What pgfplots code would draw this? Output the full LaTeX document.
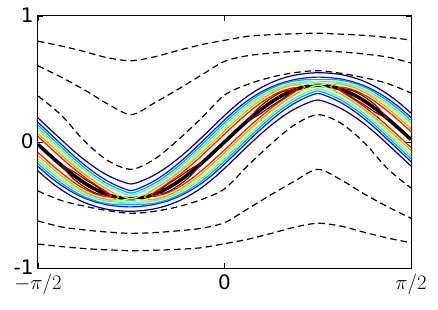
\documentclass[border=0pt]{standalone}
\usepackage{fontspec}
\setmainfont{DejaVu Sans}
\usepackage{pgfplots}
\usepackage{pgfplotstable}
\pgfplotsset{compat=1.18}
\definecolor{jA}{rgb}{0,0,0.5}
\definecolor{jB}{rgb}{0,0.07,1}
\definecolor{jC}{rgb}{0,0.64,1}
\definecolor{jD}{rgb}{0.21,1,0.79}
\definecolor{jE}{rgb}{0.79,1,0.21}
\definecolor{jF}{rgb}{1,0.64,0}
\definecolor{jG}{rgb}{1,0.07,0}
\definecolor{jH}{rgb}{0.5,0,0}

\pgfplotstableread{
x c u1 l1 u2 l2 u3 l3 u4 l4 u5 l5
-1.5708 -0.019 0.191 -0.229 0.156 -0.194 0.134 -0.172 0.113 -0.151 0.091 -0.129
-1.4726 -0.104 0.104 -0.310 0.069 -0.275 0.047 -0.254 0.026 -0.233 0.004 -0.212
-1.3744 -0.185 0.018 -0.379 -0.018 -0.344 -0.040 -0.326 -0.061 -0.305 -0.083 -0.287
-1.2763 -0.260 -0.066 -0.436 -0.104 -0.401 -0.125 -0.387 -0.146 -0.367 -0.169 -0.352
-1.1781 -0.326 -0.143 -0.481 -0.183 -0.446 -0.205 -0.435 -0.225 -0.415 -0.248 -0.404
-1.0799 -0.379 -0.210 -0.513 -0.253 -0.478 -0.274 -0.469 -0.294 -0.450 -0.318 -0.440
-0.9817 -0.419 -0.266 -0.535 -0.312 -0.500 -0.333 -0.490 -0.352 -0.471 -0.377 -0.461
-0.8836 -0.442 -0.307 -0.546 -0.356 -0.511 -0.376 -0.496 -0.394 -0.478 -0.421 -0.464
-0.7854 -0.450 -0.333 -0.550 -0.385 -0.515 -0.405 -0.495 -0.423 -0.477 -0.450 -0.450
-0.6872 -0.440 -0.305 -0.544 -0.354 -0.509 -0.374 -0.494 -0.392 -0.476 -0.419 -0.462
-0.5890 -0.414 -0.261 -0.530 -0.307 -0.495 -0.328 -0.485 -0.347 -0.466 -0.372 -0.456
-0.4909 -0.372 -0.203 -0.506 -0.246 -0.471 -0.267 -0.462 -0.287 -0.443 -0.311 -0.433
-0.3927 -0.316 -0.133 -0.471 -0.173 -0.436 -0.195 -0.425 -0.215 -0.405 -0.238 -0.394
-0.2945 -0.248 -0.054 -0.424 -0.092 -0.389 -0.113 -0.375 -0.134 -0.355 -0.157 -0.340
-0.1963 -0.171 0.032 -0.365 -0.004 -0.330 -0.026 -0.312 -0.047 -0.291 -0.069 -0.273
-0.0982 -0.087 0.121 -0.293 0.086 -0.258 0.064 -0.237 0.043 -0.216 0.021 -0.195
0 0 0.210 -0.210 0.175 -0.175 0.153 -0.153 0.132 -0.132 0.110 -0.110
0.0982 0.087 0.293 -0.121 0.258 -0.086 0.237 -0.064 0.216 -0.043 0.195 -0.021
0.1963 0.171 0.365 -0.032 0.330 0.004 0.312 0.026 0.291 0.047 0.273 0.069
0.2945 0.248 0.424 0.054 0.389 0.092 0.375 0.113 0.355 0.134 0.340 0.157
0.3927 0.316 0.471 0.133 0.436 0.173 0.425 0.195 0.405 0.215 0.394 0.238
0.4909 0.372 0.506 0.203 0.471 0.246 0.462 0.267 0.443 0.287 0.433 0.311
0.5890 0.414 0.530 0.261 0.495 0.307 0.485 0.328 0.466 0.347 0.456 0.372
0.6872 0.440 0.544 0.305 0.509 0.354 0.494 0.374 0.476 0.392 0.462 0.419
0.7854 0.450 0.550 0.333 0.515 0.385 0.495 0.405 0.477 0.423 0.450 0.450
0.8836 0.442 0.546 0.307 0.511 0.356 0.496 0.376 0.478 0.394 0.464 0.421
0.9817 0.419 0.535 0.266 0.500 0.312 0.490 0.333 0.471 0.352 0.461 0.377
1.0799 0.379 0.513 0.210 0.478 0.253 0.469 0.274 0.450 0.294 0.440 0.318
1.1781 0.326 0.481 0.143 0.446 0.183 0.435 0.205 0.415 0.225 0.404 0.248
1.2763 0.260 0.436 0.066 0.401 0.104 0.387 0.125 0.367 0.146 0.352 0.169
1.3744 0.185 0.379 -0.018 0.344 0.018 0.326 0.040 0.305 0.061 0.287 0.083
1.4726 0.104 0.310 -0.104 0.275 -0.069 0.254 -0.047 0.233 -0.026 0.212 -0.004
1.5708 0.019 0.229 -0.191 0.194 -0.156 0.172 -0.134 0.151 -0.113 0.129 -0.091
}\contours

\pgfplotstableread{
x d1 d2 d3 d4 d5 d6
-1.5708 0.800 0.605 0.365 -0.389 -0.627 -0.810
-1.3744 0.762 0.514 0.213 -0.464 -0.674 -0.830
-1.1781 0.717 0.413 0.006 -0.510 -0.698 -0.846
-0.9817 0.668 0.301 -0.148 -0.545 -0.715 -0.856
-0.7854 0.645 0.217 -0.217 -0.566 -0.725 -0.863
-0.5890 0.676 0.311 -0.136 -0.550 -0.719 -0.859
-0.3927 0.726 0.418 0.015 -0.514 -0.705 -0.852
-0.1963 0.772 0.530 0.188 -0.458 -0.685 -0.839
0 0.807 0.640 0.372 -0.372 -0.640 -0.807
0.1963 0.839 0.685 0.458 -0.188 -0.530 -0.772
0.3927 0.852 0.705 0.514 -0.015 -0.418 -0.726
0.5890 0.859 0.719 0.550 0.136 -0.311 -0.676
0.7854 0.863 0.725 0.566 0.217 -0.217 -0.645
0.9817 0.856 0.715 0.545 0.148 -0.301 -0.668
1.1781 0.846 0.698 0.510 -0.006 -0.413 -0.717
1.3744 0.830 0.674 0.464 -0.213 -0.514 -0.762
1.5708 0.810 0.627 0.389 -0.365 -0.605 -0.800
}\dashed

\begin{document}
\begin{tikzpicture}
\path[use as bounding box] (-38bp,-42bp) rectangle (400bp,268bp);
\begin{axis}[
  at={(0,0)}, anchor=south west,
  scale only axis, width=373bp, height=252bp,
  xmin=-1.5708, xmax=1.5708, ymin=-1, ymax=1,
  xtick={-1.5708,0,1.5708}, xticklabels={$-\pi/2$,0,$\pi/2$},
  ytick={-1,0,1}, yticklabels={-1,0,1},
  tick align=inside, major tick length=5bp,
  xtick pos=both, ytick pos=both,
  xticklabel pos=lower, yticklabel pos=left,
  tick style={black, line width=0.8bp},
  axis line style={line width=1bp},
  ticklabel style={font=\fontsize{20}{20}\selectfont},
  yticklabel style={xshift=-1bp, yshift=1bp},
  xticklabel style={yshift=-3bp},
]
\addplot[black, line width=1.2bp, dash pattern=on 6.5bp off 4bp, smooth] table[x=x,y=d1]{\dashed};
\addplot[black, line width=1.2bp, dash pattern=on 6.5bp off 4bp, smooth] table[x=x,y=d2]{\dashed};
\addplot[black, line width=1.2bp, dash pattern=on 6.5bp off 4bp, smooth] table[x=x,y=d3]{\dashed};
\addplot[black, line width=1.2bp, dash pattern=on 6.5bp off 4bp, smooth] table[x=x,y=d4]{\dashed};
\addplot[black, line width=1.2bp, dash pattern=on 6.5bp off 4bp, smooth] table[x=x,y=d5]{\dashed};
\addplot[black, line width=1.2bp, dash pattern=on 6.5bp off 4bp, smooth] table[x=x,y=d6]{\dashed};

\addplot[black, line width=3.6bp, smooth] table[x=x,y=c]{\contours};

\addplot[jA, line width=1.2bp, smooth] table[x=x,y=u1]{\contours};
\addplot[jA, line width=1.2bp, smooth] table[x=x,y=l1]{\contours};
\addplot[jB, line width=1.2bp, smooth] table[x=x,y=u2]{\contours};
\addplot[jB, line width=1.2bp, smooth] table[x=x,y=l2]{\contours};
\addplot[jC, line width=1.2bp, smooth] table[x=x,y=u3]{\contours};
\addplot[jC, line width=1.2bp, smooth] table[x=x,y=l3]{\contours};
\addplot[jD, line width=1.2bp, smooth] table[x=x,y=u4]{\contours};
\addplot[jD, line width=1.2bp, smooth] table[x=x,y=l4]{\contours};
\addplot[jE, line width=1.2bp, smooth] table[x=x,y=u5]{\contours};
\addplot[jE, line width=1.2bp, smooth] table[x=x,y=l5]{\contours};

% orange loops
\addplot[jF, line width=1.2bp, smooth] coordinates {(-0.675,-0.437) (-0.638,-0.403) (-0.5890,-0.374) (-0.4909,-0.315) (-0.3927,-0.247) (-0.2945,-0.171) (-0.1963,-0.088) (-0.0982,-0.001) (0,0.087) (0.0982,0.173) (0.1963,0.254) (0.2945,0.325) (0.3927,0.385) (0.4909,0.429) (0.5890,0.454) (0.638,0.455) (0.675,0.437) (0.638,0.403) (0.5890,0.374) (0.4909,0.315) (0.3927,0.247) (0.2945,0.171) (0.1963,0.088) (0.0982,0.001) (0,-0.087) (-0.0982,-0.173) (-0.1963,-0.254) (-0.2945,-0.325) (-0.3927,-0.385) (-0.4909,-0.429) (-0.5890,-0.454) (-0.638,-0.455) (-0.675,-0.437)};
\addplot[jF, line width=1.2bp, smooth] coordinates {(-1.5708,0.068) (-1.4726,-0.018) (-1.3744,-0.102) (-1.2763,-0.183) (-1.1781,-0.257) (-1.0799,-0.322) (-0.9817,-0.379) (-0.932,-0.406) (-0.895,-0.440) (-0.932,-0.458) (-0.9817,-0.459) (-1.0799,-0.436) (-1.1781,-0.395) (-1.2763,-0.337) (-1.3744,-0.268) (-1.4726,-0.190) (-1.5708,-0.106)};
\addplot[jF, line width=1.2bp, smooth] coordinates {(1.5708,-0.068) (1.4726,0.018) (1.3744,0.102) (1.2763,0.183) (1.1781,0.257) (1.0799,0.322) (0.9817,0.379) (0.932,0.406) (0.895,0.440) (0.932,0.458) (0.9817,0.459) (1.0799,0.436) (1.1781,0.395) (1.2763,0.337) (1.3744,0.268) (1.4726,0.190) (1.5708,0.106)};

% red loops
\addplot[jG, line width=1.2bp, smooth] coordinates {(-0.615,-0.422) (-0.5890,-0.397) (-0.4909,-0.336) (-0.3927,-0.269) (-0.2945,-0.194) (-0.1963,-0.112) (-0.0982,-0.025) (0,0.063) (0.0982,0.149) (0.1963,0.230) (0.2945,0.303) (0.3927,0.363) (0.4909,0.408) (0.5890,0.431) (0.615,0.422) (0.5890,0.397) (0.4909,0.336) (0.3927,0.269) (0.2945,0.194) (0.1963,0.112) (0.0982,0.025) (0,-0.063) (-0.0982,-0.149) (-0.1963,-0.230) (-0.2945,-0.303) (-0.3927,-0.363) (-0.4909,-0.408) (-0.5890,-0.431) (-0.615,-0.422)};
\addplot[jG, line width=1.2bp, smooth] coordinates {(-1.5708,0.044) (-1.4726,-0.042) (-1.3744,-0.126) (-1.2763,-0.206) (-1.1781,-0.279) (-1.0799,-0.343) (-0.9817,-0.402) (-0.955,-0.426) (-0.9817,-0.436) (-1.0799,-0.415) (-1.1781,-0.373) (-1.2763,-0.315) (-1.3744,-0.244) (-1.4726,-0.166) (-1.5708,-0.082)};
\addplot[jG, line width=1.2bp, smooth] coordinates {(1.5708,-0.044) (1.4726,0.042) (1.3744,0.126) (1.2763,0.206) (1.1781,0.279) (1.0799,0.343) (0.9817,0.402) (0.955,0.426) (0.9817,0.436) (1.0799,0.415) (1.1781,0.373) (1.2763,0.315) (1.3744,0.244) (1.4726,0.166) (1.5708,0.082)};

% dark red loops
\addplot[jH, line width=1.2bp, smooth] coordinates {(-1.3744,-0.185) (-1.2763,-0.232) (-1.1781,-0.294) (-1.0799,-0.351) (-0.9817,-0.419) (-1.0799,-0.407) (-1.1781,-0.358) (-1.2763,-0.288) (-1.3744,-0.185)};
\addplot[jH, line width=1.2bp, smooth] coordinates {(-0.5890,-0.414) (-0.4909,-0.344) (-0.3927,-0.284) (-0.2945,-0.220) (-0.1963,-0.171) (-0.2945,-0.276) (-0.3927,-0.348) (-0.4909,-0.400) (-0.5890,-0.414)};
\addplot[jH, line width=1.2bp, smooth] coordinates {(0.5890,0.414) (0.4909,0.400) (0.3927,0.348) (0.2945,0.276) (0.1963,0.171) (0.2945,0.220) (0.3927,0.284) (0.4909,0.344) (0.5890,0.414)};
\addplot[jH, line width=1.2bp, smooth] coordinates {(1.3744,0.185) (1.2763,0.288) (1.1781,0.358) (1.0799,0.407) (0.9817,0.419) (1.0799,0.351) (1.1781,0.294) (1.2763,0.232) (1.3744,0.185)};
\end{axis}
\end{tikzpicture}
\end{document}
